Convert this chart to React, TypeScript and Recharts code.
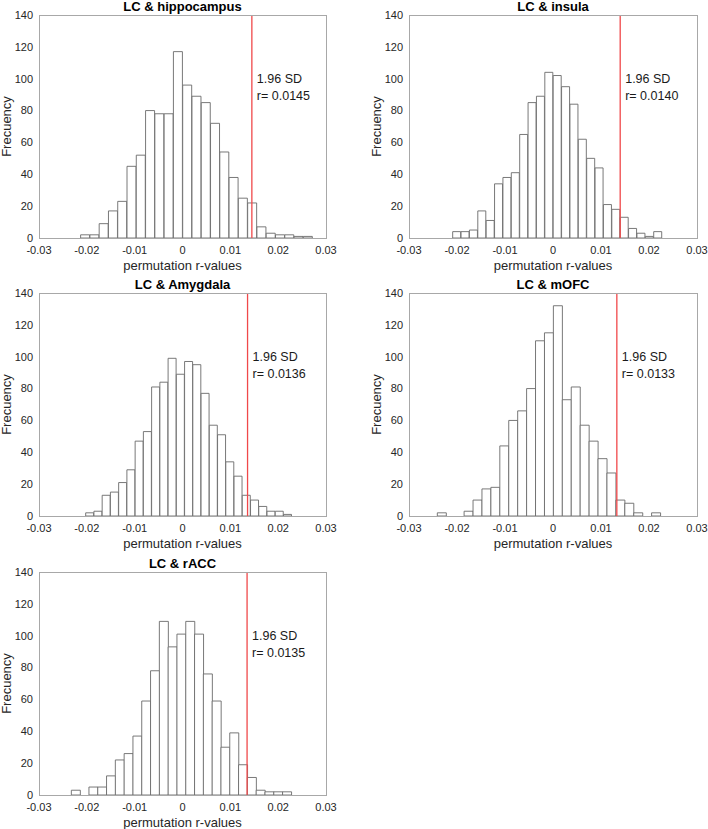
import { BarChart, Bar, XAxis, YAxis, ReferenceLine, ReferenceDot } from "recharts";

const FONT = "'Liberation Sans', Arial, Helvetica, sans-serif";

const xTicks = [-0.03, -0.02, -0.01, 0, 0.01, 0.02, 0.03];
const yTicks = [0, 20, 40, 60, 80, 100, 120, 140];

// counts per bin (left to right)
const hippocampusCounts = [2, 2, 9, 17, 23, 45, 52, 80, 78, 78, 117, 96, 89, 85, 72, 54, 38, 25, 22, 7, 3, 2, 2, 1, 1];
const insulaCounts = [4, 4, 5, 17, 11, 34, 38, 41, 65, 85, 89, 104, 102, 95, 84, 62, 50, 44, 21, 18, 13, 6, 3, 1, 4];
const amygdalaCounts = [2, 3, 13, 15, 21, 29, 47, 53, 81, 84, 99, 89, 97, 95, 77, 57, 51, 34, 25, 13, 10, 6, 3, 3, 1];
const mofcCounts = [2, 0, 0, 3, 10, 17, 18, 44, 60, 66, 80, 110, 115, 132, 73, 81, 57, 47, 36, 27, 10, 8, 2, 0, 2];
const raccCounts = [3, 0, 5, 5, 12, 22, 26, 37, 59, 78, 109, 93, 101, 109, 101, 76, 59, 30, 39, 19, 11, 3, 2, 2, 2];

// first bin edge and bin width of each histogram
const binStarts = [-0.0213, -0.0209, -0.02024, -0.0241, -0.02324];
const binWidths = [0.00194, 0.001745, 0.001723, 0.00186, 0.00184];

const titles = ["LC & hippocampus", "LC & insula", "LC & Amygdala", "LC & mOFC", "LC & rACC"];
const thresholds = [0.0145, 0.014, 0.0136, 0.0133, 0.0135];
const thresholdLabels = ["r= 0.0145", "r= 0.0140", "r= 0.0136", "r= 0.0133", "r= 0.0135"];

const PLOT_H = 223;
const panels = [
  { left: 39, top: 15, width: 287 },
  { left: 409, top: 15, width: 288 },
  { left: 39, top: 293, width: 287 },
  { left: 409, top: 293, width: 288 },
  { left: 39, top: 572, width: 287 },
];
const allCounts = [hippocampusCounts, insulaCounts, amygdalaCounts, mofcCounts, raccCounts];

const Y_AXIS_W = 40;
const X_AXIS_H = 40;
const TOP_PAD = 5;
const RIGHT_PAD = 16;
const FRAME = "#a8a8a8";

function Histogram({ idx }: { idx: number }) {
  const p = panels[idx];
  const data = allCounts[idx].map((c, i) => ({
    x: binStarts[idx] + binWidths[idx] * (i + 0.5),
    count: c,
  }));
  const thr = thresholds[idx];

  return (
    <>
      <div
        style={{
          position: "absolute",
          left: p.left,
          top: Math.max(0, p.top - 15),
          width: p.width,
          textAlign: "center",
          font: `bold 13px ${FONT}`,
          lineHeight: "13px",
          color: "#000",
        }}
      >
        {titles[idx]}
      </div>
      <div style={{ position: "absolute", left: p.left - Y_AXIS_W, top: p.top - TOP_PAD }}>
        <BarChart
          width={Y_AXIS_W + p.width + RIGHT_PAD}
          height={TOP_PAD + PLOT_H + X_AXIS_H}
          data={data}
          margin={{ top: TOP_PAD, right: RIGHT_PAD, left: 0, bottom: 0 }}
          barCategoryGap={0}
          barGap={0}
          style={{ fontFamily: FONT }}
        >
          <XAxis
            type="number"
            dataKey="x"
            domain={[-0.03, 0.03]}
            ticks={xTicks}
            interval={0}
            allowDataOverflow
            height={X_AXIS_H}
            axisLine={false}
            tickLine={false}
            tickSize={0}
            tickMargin={8}
            tick={{ fontSize: 11, fill: "#262626" }}
            label={(lp: any) => {
              const vb = lp.viewBox;
              return (
                <text
                  x={vb.x + vb.width / 2}
                  y={vb.y + 32}
                  textAnchor="middle"
                  fontSize={13}
                  fill="#262626"
                >
                  permutation r-values
                </text>
              );
            }}
          />
          <YAxis
            type="number"
            domain={[0, 140]}
            ticks={yTicks}
            interval={0}
            width={Y_AXIS_W}
            axisLine={false}
            tickLine={false}
            tickSize={0}
            tickMargin={6}
            tick={{ fontSize: 11, fill: "#262626" }}
            label={(lp: any) => {
              const vb = lp.viewBox;
              const tx = vb.x + vb.width - 28;
              const ty = vb.y + vb.height / 2;
              return (
                <text
                  x={tx}
                  y={ty}
                  transform={`rotate(-90 ${tx} ${ty})`}
                  textAnchor="middle"
                  fontSize={13}
                  fill="#262626"
                >
                  Frecuency
                </text>
              );
            }}
          />
          <Bar
            dataKey="count"
            fill="#ffffff"
            stroke="#6a6a6a"
            strokeWidth={0.9}
            isAnimationActive={false}
          />
          <ReferenceLine x={thr} stroke="#f0484a" strokeWidth={1.3} />
          <ReferenceDot
            x={thr}
            y={100}
            r={0}
            fill="none"
            stroke="none"
            label={(lp: any) => {
              const vb = lp.viewBox;
              return (
                <g>
                  <text x={vb.x + 5} y={vb.y + 4.5} fontSize={12.5} fill="#1a1a1a">
                    1.96 SD
                  </text>
                  <text x={vb.x + 5} y={vb.y + 21.2} fontSize={12.5} fill="#1a1a1a">
                    {thresholdLabels[idx]}
                  </text>
                </g>
              );
            }}
          />
        </BarChart>
      </div>
      {/* axes box */}
      <div
        style={{
          position: "absolute",
          left: p.left,
          top: p.top,
          width: p.width + 1,
          height: PLOT_H + 1,
          boxSizing: "border-box",
          border: `1px solid ${FRAME}`,
          pointerEvents: "none",
        }}
      />
    </>
  );
}

export default function App() {
  return (
    <div
      style={{
        position: "absolute",
        left: 0,
        top: 0,
        width: 708,
        height: 829,
        overflow: "hidden",
        background: "#fff",
        fontFamily: FONT,
      }}
    >
      {panels.map((_, i) => (
        <Histogram key={i} idx={i} />
      ))}
    </div>
  );
}
